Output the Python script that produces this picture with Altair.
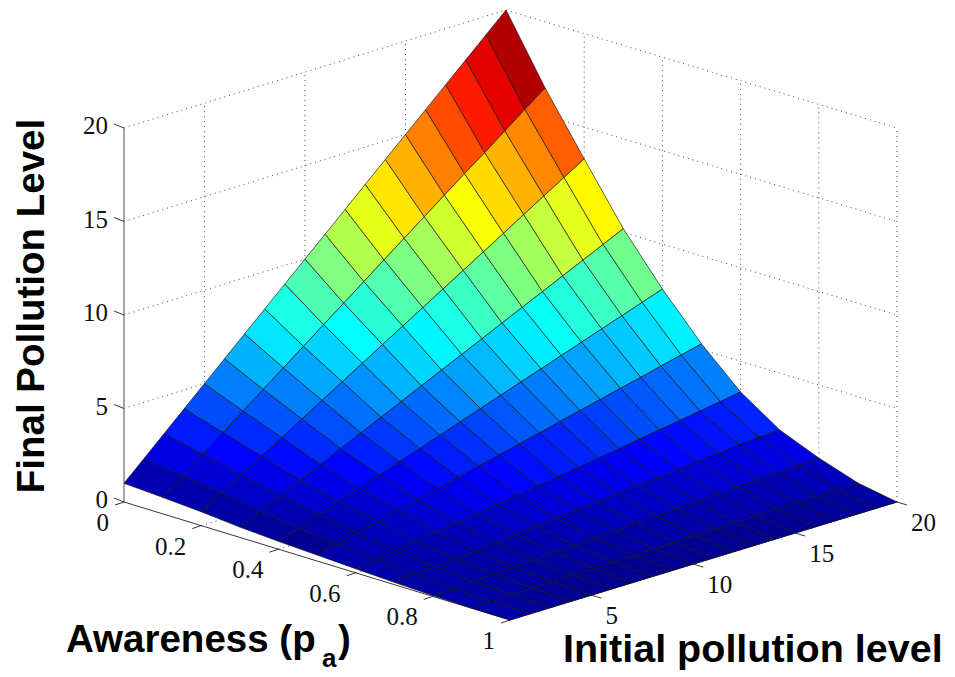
import altair as alt
import pandas as pd

awareness = [0.0, 0.1, 0.2, 0.3, 0.4, 0.5, 0.6, 0.7, 0.8, 0.9, 1.0]
initial = list(range(1, 21))
z_pa00 = [float(i) for i in range(1, 21)]
z_pa01 = [.88,1.70,2.52,3.35,4.17,4.99,5.81,6.63,7.46,8.28,9.10,9.93,10.75,11.57,12.39,13.21,14.0,14.83,15.65,16.46]
z_pa02 = [.74,1.40,2.06,2.72,3.38,4.04,4.71,5.37,6.03,6.69,7.35,8.01,8.67,9.33,9.99,10.65,11.32,11.98,12.64,13.3]
z_pa03 = [.55,1.06,1.57,2.07,2.58,3.09,3.6,4.1,4.61,5.12,5.63,6.13,6.64,7.15,7.66,8.16,8.67,9.18,9.69,10.2]
z_pa04 = [.42,.80,1.18,1.55,1.93,2.31,2.69,3.07,3.44,3.82,4.2,4.58,4.96,5.33,5.71,6.09,6.47,6.84,7.22,7.6]
z_pa05 = [.32,.58,.84,1.11,1.37,1.63,1.89,2.15,2.42,2.68,2.94,3.2,3.47,3.73,3.99,4.25,4.51,4.78,5.04,5.3]
z_pa06 = [.22,.38,.53,.69,.85,1.01,1.17,1.33,1.49,1.66,1.82,1.99,2.15,2.32,2.49,2.66,2.83,3.0,3.18,3.36]
z_pa07 = [.12,.2,.29,.38,.48,.58,.68,.78,.89,.99,1.1,1.2,1.3,1.41,1.51,1.62,1.72,1.83,1.9,1.96]
z_pa08 = [.05,.09,.14,.19,.24,.3,.35,.41,.46,.52,.58,.64,.7,.76,.81,.87,.93,.98,1.04,1.09]
z_pa09 = [.01,.03,.05,.07,.09,.11,.13,.15,.17,.19,.21,.23,.25,.27,.29,.31,.33,.35,.37,.39]
z_pa10 = [0.0] * 20
Z = [z_pa00, z_pa01, z_pa02, z_pa03, z_pa04, z_pa05, z_pa06, z_pa07, z_pa08, z_pa09, z_pa10]

shade_pa05 = [.9,1.0,1.15,1.35,1.6,1.85,2.15,2.4,2.6,2.8,3.0,3.2,3.47,3.73,3.99,4.25,4.51,4.78,5.04]
shade_pa06 = [.85,.85,.9,1.0,1.1,1.25,1.4,1.55,1.7,1.85,2.0,2.15,2.3,2.45,2.6,2.7,2.85,3.0,3.2]
shade_pa07 = [.85,.8,.75,.75,.8,.85,.9,1.0,1.1,1.2,1.3,1.35,1.4,1.5,1.6,1.7,1.8,1.9,1.95]
shade_pa08 = [.8,.7,.65,.62,.62,.62,.65,.65,.7,.75,.8,.85,.9,.95,1.0,1.0,1.05,1.1,1.15]
shade_pa09 = [.85,.62,.5,.42,.38,.36,.36,.36,.36,.36,.36,.38,.4,.42,.45,.48,.52,.6,.75]
SHADE = {5: shade_pa05, 6: shade_pa06, 7: shade_pa07, 8: shade_pa08, 9: shade_pa09}

z_ticks = [0, 5, 10, 15, 20]
pa_ticks = [0, 0.2, 0.4, 0.6, 0.8, 1]
pa_labels = ["0", "0.2", "0.4", "0.6", "0.8", "1"]
init_ticks = [5, 10, 15, 20]
jet_domain = [0, 2.5, 7.5, 12.5, 17.5, 20]
jet_range = ["#00007f", "#0000ff", "#00ffff", "#ffff00", "#ff0000", "#7f0000"]

# view of the box: where the floor corners land on the page
FLOOR = dict(A=(124, 502), B=(510, 620), C=(897, 502), D=(506, 384))
ZPX = 18.7


def proj(init, pa, z=0.0):
    u = (init - 1) / 19
    v = pa
    px = []
    for k in (0, 1):
        px.append((1 - u) * ((1 - v) * FLOOR["A"][k] + v * FLOOR["B"][k])
                  + u * ((1 - v) * FLOOR["D"][k] + v * FLOOR["C"][k]))
    return px[0], px[1] - z * ZPX


cells = []
for j in range(len(awareness) - 1):
    for i in range(len(initial) - 1):
        corners = [(i, j), (i + 1, j), (i + 1, j + 1), (i, j + 1), (i, j)]
        level = SHADE[j][i] if j in SHADE else Z[j][i]
        for n, (a, b) in enumerate(corners):
            x, y = proj(initial[a], awareness[b], Z[b][a])
            cells.append(dict(cell=f"{j}-{i}", n=n, x=x, y=y, level=level))
cells = pd.DataFrame(cells)


def seg(rows, gid, p, q):
    rows.append(dict(g=gid, n=0, x=p[0], y=p[1]))
    rows.append(dict(g=gid, n=1, x=q[0], y=q[1]))


dots = []
for t in z_ticks[1:]:
    seg(dots, f"a{t}", proj(1, 0, t), proj(20, 0, t))
    seg(dots, f"b{t}", proj(20, 0, t), proj(20, 1, t))
for t in init_ticks:
    seg(dots, f"c{t}", proj(t, 0, 0), proj(t, 0, 20))
    seg(dots, f"f{t}", proj(t, 0, 0), proj(t, 1, 0))
for t in pa_ticks[1:]:
    seg(dots, f"d{t}", proj(20, t, 0), proj(20, t, 20))
    seg(dots, f"e{t}", proj(1, t, 0), proj(20, t, 0))
dots = pd.DataFrame(dots)

axes = []
seg(axes, "pa", proj(1, 0), proj(1, 1))
seg(axes, "in", proj(1, 1), proj(20, 1))
for t in pa_ticks:
    p = proj(1, t)
    seg(axes, f"tp{t}", p, (p[0] - 9, p[1] + 3))
for t in init_ticks:
    p = proj(t, 1)
    seg(axes, f"ti{t}", p, (p[0] + 10, p[1] + 3))
for t in z_ticks:
    p = proj(1, 0, t)
    seg(axes, f"tz{t}", p, (p[0] - 10, p[1] - 4))
axes = pd.DataFrame(axes)
zaxis = []
seg(zaxis, "z", proj(1, 0, 0), proj(1, 0, 20))
zaxis = pd.DataFrame(zaxis)

z_lab = pd.DataFrame([dict(x=proj(1, 0, t)[0], y=proj(1, 0, t)[1], t=str(t)) for t in z_ticks])
pa_lab = pd.DataFrame([dict(x=proj(1, t)[0], y=proj(1, t)[1], t=s) for t, s in zip(pa_ticks, pa_labels)])
in_lab = pd.DataFrame([dict(x=proj(t, 1)[0], y=proj(t, 1)[1], t=str(t)) for t in init_ticks])

W, H = 939, 661
X = alt.X("x:Q", scale=alt.Scale(domain=[8, 8 + W], nice=False, zero=False), axis=None)
Y = alt.Y("y:Q", scale=alt.Scale(domain=[8 + H, 8], nice=False, zero=False), axis=None)


def lines(df, **kw):
    return alt.Chart(df).mark_line(**kw).encode(x=X, y=Y, detail="g:N", order="n:Q")


surface = alt.Chart(cells).mark_line(filled=True, stroke="#111111", strokeWidth=0.65, strokeJoin="round").encode(
    x=X, y=Y, detail="cell:N", order="n:Q",
    color=alt.Color("level:Q", legend=None,
                    scale=alt.Scale(domain=jet_domain, range=jet_range, interpolate="rgb")),
)

serif = "Liberation Serif"
label = dict(font=serif, fontSize=25, color="#111111")
z_text = alt.Chart(z_lab).mark_text(align="right", baseline="middle", dx=-16, dy=-2, **label).encode(x=X, y=Y, text="t:N")
pa_text = alt.Chart(pa_lab).mark_text(align="right", baseline="middle", dx=-15, dy=21, **label).encode(x=X, y=Y, text="t:N")
in_text = alt.Chart(in_lab).mark_text(align="left", baseline="middle", dx=14, dy=21, **label).encode(x=X, y=Y, text="t:N")

bold = dict(font="Liberation Sans", fontWeight="bold", color="black")


def title(text, size, x, y, **kw):
    return alt.Chart(pd.DataFrame({"t": [text]})).mark_text(
        align="left", baseline="alphabetic", fontSize=size, **bold, **kw
    ).encode(x=alt.value(x), y=alt.value(y), text="t:N")


t_z = alt.Chart(pd.DataFrame({"t": ["Final Pollution Level"]})).mark_text(
    angle=270, align="center", baseline="alphabetic", fontSize=38.5, **bold
).encode(x=alt.value(36), y=alt.value(298), text="t:N")
t_pa = title("Awareness (p", 38.5, 58, 644)
t_sub = title("a", 26, 314, 659)
t_par = title(")", 38.5, 330, 644)
t_in = title("Initial pollution level", 39.5, 555, 654)

chart = alt.layer(
    lines(dots, stroke="#444444", strokeWidth=1, strokeDash=[1, 4]),
    lines(zaxis, stroke="#909090", strokeWidth=1.6),
    lines(axes, stroke="#222222", strokeWidth=0.9),
    surface,
    z_text, pa_text, in_text, t_z, t_pa, t_sub, t_par, t_in,
).properties(width=W, height=H, background="white", padding=0).configure_view(stroke=None)

chart.save("out.html", embed_options={"renderer": "svg", "actions": False})
